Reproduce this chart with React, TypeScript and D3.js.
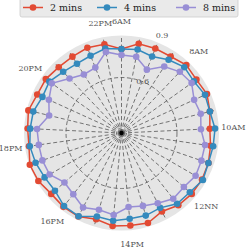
import React from "react";
import * as d3 from "d3";

const N = 33;
const thetaLabels = ["6AM", "8AM", "10AM", "12NN", "14PM", "16PM", "18PM", "20PM", "22PM"];
const labelEvery = 4;
const rTicks = [0.3, 0.6, 0.9];
const rTickLabels = ["", "0.6", "0.9"];
const seriesNames = ["2 mins", "4 mins", "8 mins"];
const seriesColors = ["#E24A33", "#348ABD", "#988ED5"];

const mins2 = [0.770, 0.811, 0.811, 0.811, 0.829, 0.817, 0.829, 0.811, 0.796, 0.805, 0.817, 0.823, 0.823, 0.817, 0.795, 0.828, 0.823, 0.826, 0.805, 0.829, 0.829, 0.823, 0.841, 0.847, 0.826, 0.829, 0.840, 0.821, 0.823, 0.811, 0.810, 0.816, 0.808];
const mins4 = [0.770, 0.776, 0.760, 0.788, 0.811, 0.799, 0.816, 0.811, 0.827, 0.821, 0.817, 0.829, 0.808, 0.805, 0.771, 0.782, 0.782, 0.794, 0.788, 0.827, 0.823, 0.794, 0.798, 0.811, 0.821, 0.814, 0.810, 0.787, 0.797, 0.773, 0.760, 0.765, 0.782];
const mins8 = [0.734, 0.732, 0.676, 0.740, 0.773, 0.782, 0.745, 0.755, 0.743, 0.772, 0.773, 0.779, 0.761, 0.768, 0.740, 0.722, 0.712, 0.760, 0.746, 0.769, 0.734, 0.719, 0.764, 0.768, 0.767, 0.773, 0.713, 0.745, 0.779, 0.718, 0.684, 0.689, 0.761];
const rDomain = [0.27, 0.85];

export default function App() {
  const W = 246, H = 250;
  const cx = 121.5, cy = 133, R = 97.5;
  const r = d3.scaleLinear().domain(rDomain).range([0, R]);
  const ang = (i: number) => (i * 2 * Math.PI) / N;
  const pt = (a: number, rad: number): [number, number] => [cx + rad * Math.sin(a), cy - rad * Math.cos(a)];
  const series = [mins2, mins4, mins8];
  const line = d3
    .lineRadial<number>()
    .angle((_, i) => ang(i))
    .radius((v) => r(v))
    .curve(d3.curveLinearClosed);
  const font = "'DejaVu Serif', serif";
  const legendX = [23, 97, 176];

  return (
    <svg width={W} height={H} style={{ position: "absolute", left: 0, top: 0 }}>
      <rect width={W} height={H} fill="#fff" />
      <circle cx={cx} cy={cy} r={R} fill="#E5E5E5" />
      <g stroke="#555" strokeWidth={0.8} strokeDasharray="4,2.5" fill="none">
        {d3.range(N).map((i) => {
          const [x, y] = pt(ang(i), R);
          return <line key={i} x1={cx} y1={cy} x2={x} y2={y} />;
        })}
        {rTicks.filter((t) => r(t) < R).map((t) => (
          <circle key={t} cx={cx} cy={cy} r={r(t)} />
        ))}
      </g>
      <circle cx={cx} cy={cy} r={2.2} fill="#000" />
      {rTicks.map((t, i) => {
        const [x, y] = pt((22.5 * Math.PI) / 180, r(t));
        return rTickLabels[i] ? (
          <text key={t} x={x} y={y} fontSize={8} fontFamily={font} fill="#555" textAnchor="middle" dominantBaseline="central">
            {rTickLabels[i]}
          </text>
        ) : null;
      })}
      <g transform={`translate(${cx},${cy})`}>
        {series.map((s, k) => (
          <g key={k}>
            <path d={line(s) || ""} fill="none" stroke={seriesColors[k]} strokeWidth={1.5} />
            {s.map((v, i) => {
              const a = ang(i);
              return <circle key={i} cx={r(v) * Math.sin(a)} cy={-r(v) * Math.cos(a)} r={3.3} fill={seriesColors[k]} />;
            })}
          </g>
        ))}
      </g>
      {thetaLabels.map((lab, j) => {
        const [x, y] = pt(ang(j * labelEvery), R + 14.5);
        return (
          <text key={lab} x={x} y={y} fontSize={8} fontFamily={font} fill="#555" textAnchor="middle" dominantBaseline="central">
            {lab}
          </text>
        );
      })}
      <rect x={20} y={-2} width={218} height={19} rx={2} fill="#E5E5E5" fillOpacity={0.8} stroke="#ccc" strokeWidth={0.8} />
      {seriesNames.map((name, k) => (
        <g key={name}>
          <line x1={legendX[k]} x2={legendX[k] + 20} y1={7.5} y2={7.5} stroke={seriesColors[k]} strokeWidth={1.5} />
          <circle cx={legendX[k] + 10} cy={7.5} r={3.3} fill={seriesColors[k]} />
          <text x={legendX[k] + 27} y={7.5} fontSize={9.5} fontFamily={font} fill="#222" dominantBaseline="central">
            {name}
          </text>
        </g>
      ))}
    </svg>
  );
}
